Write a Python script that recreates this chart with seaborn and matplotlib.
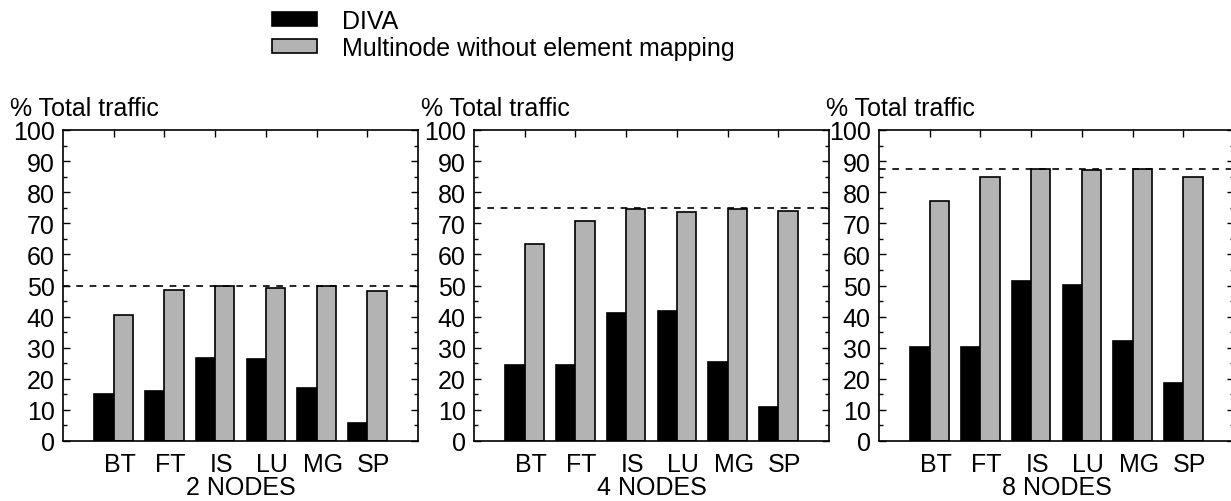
import matplotlib
matplotlib.use("Agg")
import matplotlib.pyplot as plt
import matplotlib.transforms as mtransforms
from matplotlib.ticker import MultipleLocator
import seaborn as sns
import pandas as pd

benchmarks = ["BT", "FT", "IS", "LU", "MG", "SP"]
series_names = ["DIVA", "Multinode without element mapping"]
panel_titles = ["2 NODES", "4 NODES", "8 NODES"]
ideal_share = [50.0, 75.0, 87.5]

diva_2 = [15.2, 16.1, 26.8, 26.4, 17.1, 5.9]
multi_2 = [40.5, 48.7, 49.9, 49.1, 49.9, 48.3]
diva_4 = [24.4, 24.4, 41.0, 41.9, 25.5, 10.9]
multi_4 = [63.4, 70.7, 74.6, 73.6, 74.6, 73.9]
diva_8 = [30.3, 30.3, 51.4, 50.1, 32.3, 18.8]
multi_8 = [77.1, 84.8, 87.3, 87.0, 87.3, 85.0]

panels = [(diva_2, multi_2), (diva_4, multi_4), (diva_8, multi_8)]

sns.set_theme(style="white")
plt.rcParams["font.family"] = ["Liberation Sans", "DejaVu Sans"]
FS = 18
plt.rcParams["font.size"] = FS
plt.rcParams["text.color"] = "black"
plt.rcParams["axes.labelcolor"] = "black"
plt.rcParams["xtick.color"] = "black"
plt.rcParams["ytick.color"] = "black"

W, H = 1231, 502
fig = plt.figure(figsize=(W / 100, H / 100), dpi=100)

lefts = [63, 474, 879]
ax_w = 355
ax_bottom = 442
ax_top = 131
palette = {series_names[0]: "#000000", series_names[1]: "#b3b3b3"}

axes = []
for i, (left, (d, m)) in enumerate(zip(lefts, panels)):
    ax = fig.add_axes([left / W, 1 - ax_bottom / H, ax_w / W, (ax_bottom - ax_top) / H])
    df = pd.DataFrame({
        "bench": benchmarks * 2,
        "series": [series_names[0]] * 6 + [series_names[1]] * 6,
        "value": d + m,
    })
    sns.barplot(data=df, x="bench", y="value", hue="series", order=benchmarks,
                hue_order=series_names, palette=palette, width=0.76,
                edgecolor="black", linewidth=1.2, saturation=1, ax=ax, legend=False)
    ax.axhline(ideal_share[i], color="black", linestyle=(0, (4, 4)), linewidth=1.2, zorder=5)
    ax.set_xlim(-1, 6)
    ax.set_ylim(0, 100)
    ax.set_xlabel("")
    ax.set_ylabel("")
    ax.set_yticks(range(0, 101, 10))
    ax.yaxis.set_minor_locator(MultipleLocator(5))
    ax.tick_params(axis="y", which="major", direction="in", length=5, width=1.0,
                   left=True, right=True, labelsize=FS, pad=6, colors="black")
    ax.tick_params(axis="y", which="minor", direction="in", length=3, width=1.0,
                   left=True, right=True, colors="black")
    ax.tick_params(axis="x", which="major", direction="in", length=5, width=1.0,
                   top=True, bottom=False, labelsize=FS, pad=8, colors="black")
    offset = mtransforms.ScaledTranslation(6 / 100, 0, fig.dpi_scale_trans)
    for lab in ax.get_xticklabels():
        lab.set_transform(lab.get_transform() + offset)
    for sp in ax.spines.values():
        sp.set_visible(True)
        sp.set_color("black")
        sp.set_linewidth(1.2)
    ax.text(0.5, 0, panel_titles[i], ha="center", va="center", fontsize=FS, color="black",
            transform=ax.transAxes + mtransforms.ScaledTranslation(0, -46 / 100, fig.dpi_scale_trans))
    ax.text(0, 1, "% Total traffic", ha="left", va="center", fontsize=FS, color="black",
            transform=ax.transAxes + mtransforms.ScaledTranslation(-53 / 100, 22 / 100, fig.dpi_scale_trans))
    axes.append(ax)

handles = [plt.Rectangle((0, 0), 1, 1, facecolor=palette[s], edgecolor="black", linewidth=1.2)
           for s in series_names]
fig.legend(handles, series_names, loc="upper left", bbox_to_anchor=(272 / W, 1 - 10 / H),
           frameon=False, fontsize=FS, handlelength=1.8, handleheight=0.5,
           handletextpad=1.0, labelspacing=0.12, borderaxespad=0, borderpad=0,
           labelcolor="black")

fig.savefig("out.png", dpi=100, facecolor="white")
